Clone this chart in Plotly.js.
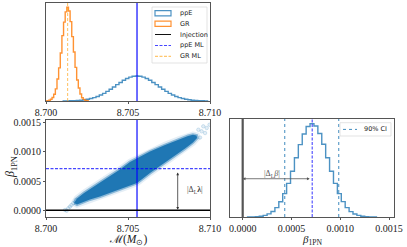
<!DOCTYPE html>
<html>
<head>
<meta charset="utf-8">
<script src="https://cdn.plot.ly/plotly-3.0.1.min.js"></script>
<style>html,body{margin:0;padding:0;background:#fff;}#chart{width:407px;height:247px;}</style>
</head>
<body>
<div id="chart"></div>
<script>
// ---------- data ----------
// top panel: chirp-mass posteriors (step histograms, normalised)
var grEdges = [8.69997,8.70007,8.70017,8.70027,8.70037,8.70047,8.70057,8.70067,8.70077,8.70087,8.70097,8.70107,8.70117,8.70127,8.70137,8.70147,8.70157,8.70167,8.70177,8.70187,8.70197,8.70207,8.70217,8.70227,8.70237,8.70247,8.70257];
var grHeights = [0.001,0.003,0.008,0.018,0.038,0.072,0.13,0.235,0.355,0.515,0.70,0.845,0.955,1.005,0.965,0.85,0.69,0.525,0.36,0.225,0.14,0.075,0.035,0.017,0.007,0.003];
var ppeEdges = [8.70105,8.70125,8.70145,8.70165,8.70185,8.70205,8.70225,8.70245,8.70265,8.70285,8.70305,8.70325,8.70345,8.70365,8.70385,8.70405,8.70425,8.70445,8.70465,8.70485,8.70505,8.70525,8.70545,8.70565,8.70585,8.70605,8.70625,8.70645,8.70665,8.70685,8.70705,8.70725,8.70745,8.70765,8.70785,8.70805,8.70825,8.70845,8.70865,8.70885,8.70905,8.70925,8.70945,8.70965,8.70985];
var ppeHeights = [0.0009,0.0014,0.0024,0.0038,0.0058,0.0088,0.013,0.019,0.026,0.036,0.049,0.064,0.082,0.103,0.126,0.150,0.175,0.199,0.222,0.241,0.256,0.265,0.268,0.265,0.256,0.241,0.222,0.199,0.175,0.150,0.126,0.103,0.082,0.064,0.049,0.036,0.026,0.019,0.013,0.0088,0.0058,0.0038,0.0024,0.0014];
var massTickVals = [8.700, 8.705, 8.710];
var massTickText = ["8.700", "8.705", "8.710"];

// bottom-left: joint posterior cloud (outline of the dense core) and sparse outliers
var cloudMass = [8.70171,8.70189,8.70232,8.70280,8.70329,8.70390,8.70451,8.70512,8.70555,8.70634,8.70726,8.70817,8.70866,8.70896,8.70918,8.70921,8.70896,8.70848,8.70787,8.70726,8.70634,8.70555,8.70482,8.70402,8.70329,8.70268,8.70220,8.70189,8.70171];
var cloudBeta = [0.000125,0.000202,0.000296,0.000381,0.000467,0.000578,0.000697,0.000826,0.000885,0.001005,0.001116,0.001219,0.001270,0.001291,0.001279,0.001236,0.001159,0.001056,0.000937,0.000817,0.000638,0.000467,0.000390,0.000313,0.000236,0.000185,0.000133,0.000099,0.000125];
var outlierMass = [8.70126,8.70146,8.70136,8.70166,8.70181,8.70116,8.70155,8.70997,8.70980,8.70959,8.70949,8.70929,8.70970,8.70939];
var outlierBeta = [-0.000007,0.000062,0.000034,0.00012,0.000176,0.000005,0.00009,0.001463,0.001407,0.001436,0.00135,0.001378,0.001321,0.001244];
var betaTickVals = [0, 0.0005, 0.0010, 0.0015];
var betaTickText = ["0.0000", "0.0005", "0.0010", "0.0015"];

// bottom-right: beta_1PN posterior
var betaEdges = [0.00005,0.00009,0.00013,0.00017,0.00021,0.00025,0.00029,0.00033,0.00037,0.00041,0.00045,0.00049,0.00053,0.00057,0.00061,0.00065,0.00069,0.00073,0.00077,0.00081,0.00085,0.00089,0.00093,0.00097,0.00101,0.00105,0.00109,0.00113,0.00117,0.00121,0.00125,0.00129,0.00133,0.00137];
var betaHeights = [0.0007,0.0017,0.004,0.0085,0.017,0.033,0.059,0.10,0.163,0.25,0.36,0.49,0.635,0.775,0.89,0.97,1.0,0.975,0.895,0.78,0.635,0.49,0.36,0.25,0.165,0.10,0.058,0.032,0.017,0.008,0.004,0.0017,0.0007];

// reference values
var massML = 8.70555;   // ppE maximum likelihood chirp mass
var massGR = 8.70132;   // GR maximum likelihood chirp mass
var betaML = 0.000712;  // ppE ML beta
var betaInj = 0.0;      // injection
var ciLow = 0.000431, ciHigh = 0.000984;

var topLegend = ["ppE", "GR", "Injection", "ppE ML", "GR ML"];
var ciLegend = "90% CI";

// ---------- helpers ----------
function stepXY(edges, h) {
  var x = [edges[0]], y = [0];
  for (var i = 0; i < h.length; i++) { x.push(edges[i]); y.push(h[i]); }
  x.push(edges[edges.length - 1]); y.push(0);
  return {x: x, y: y};
}
var W = 407, H = 247;
function PX(p) { return p / W; }
function PY(p) { return 1 - p / H; }

var C0 = '#1f77b4';
var histBlue = 'rgba(31,119,180,0.8)';
var histOrange = 'rgba(255,127,14,0.85)';
var mlBlue = 'rgba(0,0,255,0.72)';
var serif = 'Liberation Serif';
var sans = 'DejaVu Sans';

var gr = stepXY(grEdges, grHeights);
var pe = stepXY(ppeEdges, ppeHeights);
var bh = stepXY(betaEdges, betaHeights);

var traces = [
  {x: pe.x, y: pe.y, xaxis: 'x', yaxis: 'y', mode: 'lines', line: {shape: 'hv', color: histBlue, width: 1.4}, hoverinfo: 'skip'},
  {x: gr.x, y: gr.y, xaxis: 'x', yaxis: 'y', mode: 'lines', line: {shape: 'hv', color: histOrange, width: 1.4}, hoverinfo: 'skip'},
  // cloud fringe + core
  {x: cloudMass, y: cloudBeta, xaxis: 'x2', yaxis: 'y2', mode: 'lines', line: {color: 'rgba(31,119,180,0.12)', width: 6.5}, hoverinfo: 'skip'},
  {x: outlierMass, y: outlierBeta, xaxis: 'x2', yaxis: 'y2', mode: 'markers', marker: {symbol: 'circle', size: 3.5, color: 'rgba(31,119,180,0.12)', line: {color: 'rgba(31,119,180,0.35)', width: 0.5}}, hoverinfo: 'skip'},
  {x: cloudMass, y: cloudBeta, xaxis: 'x2', yaxis: 'y2', mode: 'lines', fill: 'toself', fillcolor: C0, line: {color: 'rgba(31,119,180,0.45)', width: 3}, hoverinfo: 'skip'},
  {x: bh.x, y: bh.y, xaxis: 'x3', yaxis: 'y3', mode: 'lines', line: {shape: 'hv', color: histBlue, width: 1.4}, hoverinfo: 'skip'}
];

var frame = {showline: true, mirror: true, linecolor: '#555', linewidth: 1, showgrid: false, zeroline: false};
var tickf = {family: serif, size: 10, color: '#222'};
var xt = {ticks: 'outside', ticklen: 2, tickcolor: '#555', tickfont: tickf};

var layout = {
  width: W, height: H,
  margin: {l: 0, r: 0, t: 0, b: 0},
  paper_bgcolor: '#fff', plot_bgcolor: '#fff',
  showlegend: false,
  xaxis: Object.assign({}, frame, xt, {domain: [46/W, 210/W], range: [8.700, 8.710], anchor: 'y', tickvals: massTickVals, ticktext: massTickText}),
  yaxis: Object.assign({}, frame, {domain: [PY(101), PY(3)], range: [0, 1.05], anchor: 'x', showticklabels: false, ticks: ''}),
  xaxis2: Object.assign({}, frame, xt, {domain: [46/W, 210/W], range: [8.700, 8.710], anchor: 'y2', tickvals: massTickVals, ticktext: massTickText}),
  yaxis2: Object.assign({}, frame, xt, {domain: [PY(217), PY(120)], range: [-0.000115, 0.001544], anchor: 'x2', tickvals: betaTickVals, ticktext: betaTickText}),
  xaxis3: Object.assign({}, frame, xt, {domain: [230/W, 394/W], range: [-0.00013, 0.00155], anchor: 'y3', tickvals: betaTickVals, ticktext: betaTickText}),
  yaxis3: Object.assign({}, frame, {domain: [PY(217), PY(119)], range: [0, 1.05], anchor: 'x3', showticklabels: false, ticks: ''}),
  shapes: [
    // top panel lines
    {type: 'line', xref: 'x', yref: 'y domain', x0: massML, x1: massML, y0: 0, y1: 1, line: {color: mlBlue, width: 1.6}},
    {type: 'line', xref: 'x', yref: 'y domain', x0: massGR, x1: massGR, y0: 0, y1: 1, line: {color: 'rgba(255,170,40,0.75)', width: 1, dash: '3px,2px'}},
    // bottom-left lines
    {type: 'line', xref: 'x2', yref: 'y2 domain', x0: massML, x1: massML, y0: 0, y1: 1, line: {color: mlBlue, width: 1.6}},
    {type: 'line', xref: 'x2 domain', yref: 'y2', x0: 0, x1: 1, y0: betaML, y1: betaML, line: {color: mlBlue, width: 1.1, dash: '3px,1.5px'}},
    {type: 'line', xref: 'x2 domain', yref: 'y2', x0: 0, x1: 1, y0: betaInj, y1: betaInj, line: {color: '#000', width: 1.4}},
    // bottom-right lines
    {type: 'line', xref: 'x3', yref: 'y3 domain', x0: betaInj, x1: betaInj, y0: 0, y1: 1, line: {color: '#555', width: 2.2}},
    {type: 'line', xref: 'x3', yref: 'y3 domain', x0: betaML, x1: betaML, y0: 0, y1: 1, line: {color: mlBlue, width: 1.1, dash: '3px,1.5px'}},
    {type: 'line', xref: 'x3', yref: 'y3 domain', x0: ciLow, x1: ciLow, y0: 0, y1: 1, line: {color: 'rgba(31,119,180,0.85)', width: 1, dash: 'dot'}},
    {type: 'line', xref: 'x3', yref: 'y3 domain', x0: ciHigh, x1: ciHigh, y0: 0, y1: 1, line: {color: 'rgba(31,119,180,0.85)', width: 1, dash: 'dot'}},
    // top legend box + symbols
    {type: 'rect', xref: 'paper', yref: 'paper', x0: PX(152), x1: PX(207), y0: PY(63), y1: PY(7), fillcolor: 'rgba(255,255,255,0.85)', line: {color: '#dcdcdc', width: 0.8}},
    {type: 'rect', xref: 'paper', yref: 'paper', x0: PX(155), x1: PX(171), y0: PY(15.8), y1: PY(10.6), fillcolor: 'rgba(0,0,0,0)', line: {color: histBlue, width: 1.2}},
    {type: 'rect', xref: 'paper', yref: 'paper', x0: PX(155), x1: PX(171), y0: PY(26.3), y1: PY(21.1), fillcolor: 'rgba(0,0,0,0)', line: {color: histOrange, width: 1.2}},
    {type: 'line', xref: 'paper', yref: 'paper', x0: PX(155), x1: PX(171), y0: PY(34.5), y1: PY(34.5), line: {color: '#111', width: 1}},
    {type: 'line', xref: 'paper', yref: 'paper', x0: PX(155), x1: PX(171), y0: PY(45.5), y1: PY(45.5), line: {color: mlBlue, width: 1, dash: '3px,1.5px'}},
    {type: 'line', xref: 'paper', yref: 'paper', x0: PX(155), x1: PX(171), y0: PY(56.3), y1: PY(56.3), line: {color: 'rgba(255,170,40,0.85)', width: 1, dash: '3px,1.5px'}},
    // right legend
    {type: 'rect', xref: 'paper', yref: 'paper', x0: PX(340), x1: PX(391), y0: PY(136), y1: PY(122.7), fillcolor: 'rgba(255,255,255,0.85)', line: {color: '#dcdcdc', width: 0.8}},
    {type: 'line', xref: 'paper', yref: 'paper', x0: PX(343), x1: PX(357), y0: PY(129.4), y1: PY(129.4), line: {color: 'rgba(31,119,180,0.85)', width: 1, dash: 'dot'}}
  ],
  annotations: [
    // legend texts
    {xref: 'paper', yref: 'paper', x: PX(177.5), y: PY(13.3), xanchor: 'left', yanchor: 'middle', text: topLegend[0], showarrow: false, font: {family: sans, size: 6.5, color: '#222'}},
    {xref: 'paper', yref: 'paper', x: PX(177.5), y: PY(23.8), xanchor: 'left', yanchor: 'middle', text: topLegend[1], showarrow: false, font: {family: sans, size: 6.5, color: '#222'}},
    {xref: 'paper', yref: 'paper', x: PX(177.5), y: PY(34.5), xanchor: 'left', yanchor: 'middle', text: topLegend[2], showarrow: false, font: {family: sans, size: 6.5, color: '#222'}},
    {xref: 'paper', yref: 'paper', x: PX(177.5), y: PY(45.4), xanchor: 'left', yanchor: 'middle', text: topLegend[3], showarrow: false, font: {family: sans, size: 6.5, color: '#222'}},
    {xref: 'paper', yref: 'paper', x: PX(177.5), y: PY(56.3), xanchor: 'left', yanchor: 'middle', text: topLegend[4], showarrow: false, font: {family: sans, size: 6.5, color: '#222'}},
    {xref: 'paper', yref: 'paper', x: PX(362), y: PY(129.4), xanchor: 'left', yanchor: 'middle', text: ciLegend, showarrow: false, font: {family: sans, size: 6.5, color: '#222'}},
    // axis titles
    {xref: 'paper', yref: 'paper', x: PX(11), y: PY(167), xanchor: 'center', yanchor: 'middle', textangle: -90, text: '<i>β</i><sub>1PN</sub>', showarrow: false, font: {family: serif, size: 12, color: '#222'}},
    {xref: 'paper', yref: 'paper', x: PX(128), y: PY(239.5), xanchor: 'center', yanchor: 'middle', text: '<span style="font-family:DejaVu Serif">ℳ</span>(<i>M</i><sub>⊙</sub>)', showarrow: false, font: {family: serif, size: 11.5, color: '#222'}},
    {xref: 'paper', yref: 'paper', x: PX(312), y: PY(240), xanchor: 'center', yanchor: 'middle', text: '<i>β</i><sub>1PN</sub>', showarrow: false, font: {family: serif, size: 11, color: '#222'}},
    // |Δ_L λ| arrow and label
    {xref: 'x2', yref: 'y2', axref: 'x2', ayref: 'y2', x: 8.70803, y: betaInj + 0.00001, ax: 8.70803, ay: betaML - 0.00004, text: '', showarrow: true, arrowside: 'end+start', arrowhead: 2, startarrowhead: 2, arrowsize: 0.7, startarrowsize: 0.7, arrowwidth: 0.8, arrowcolor: '#333'},
    {xref: 'x2', yref: 'y2', x: 8.70909, y: 0.000347, text: '|Δ<sub>L</sub><b>λ</b>|', showarrow: false, font: {family: serif, size: 8, color: '#444'}},
    // |Δ_L β| arrow and label
    {xref: 'x3', yref: 'y3', axref: 'x3', ayref: 'y3', x: betaInj, y: 0.41, ax: betaML - 0.00001, ay: 0.41, text: '', showarrow: true, arrowside: 'end+start', arrowhead: 2, startarrowhead: 2, arrowsize: 0.7, startarrowsize: 0.7, arrowwidth: 0.8, arrowcolor: '#555'},
    {xref: 'x3', yref: 'y3', x: 0.00030, y: 0.465, text: '|Δ<sub>L</sub><i>β</i>|', showarrow: false, font: {family: serif, size: 8, color: '#555'}}
  ]
};

Plotly.newPlot('chart', traces, layout, {staticPlot: true, displayModeBar: false});
</script>
</body>
</html>
